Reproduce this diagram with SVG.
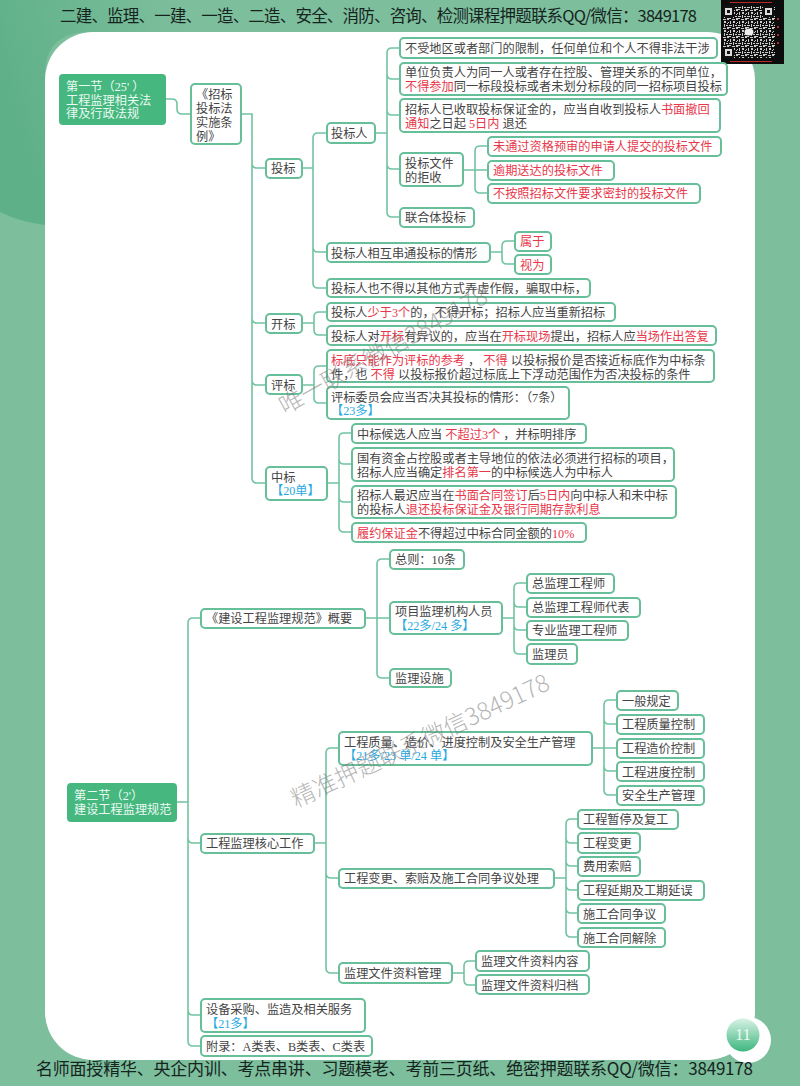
<svg xmlns="http://www.w3.org/2000/svg" width="800" height="1086" viewBox="0 0 800 1086">
<style>
text{font-family:"Liberation Serif","Noto Sans CJK SC",sans-serif;font-size:12.2px;fill:#444}
.n{fill:#fff;stroke:#66bf99;stroke-width:2}
.c{fill:none;stroke:#70c4a1;stroke-width:1.6}
.r{fill:#e8374a}
.b{fill:#27a9e1}
.w{fill:#eafaf2}
.h{font-family:"Noto Sans CJK SC","Liberation Sans",sans-serif;font-size:16.5px;fill:#16241f}
.m{font-family:"Noto Sans CJK SC",sans-serif;font-size:24px;fill:#777;fill-opacity:.55;font-weight:300}
</style>
<defs>
<linearGradient id="pg" x1="0" y1="0" x2="0" y2="1"><stop offset="0" stop-color="#d8f3e4"/><stop offset="1" stop-color="#3db67f"/></linearGradient>
<linearGradient id="tl" gradientUnits="userSpaceOnUse" x1="0" y1="100" x2="190" y2="40"><stop offset="0" stop-color="#5eb088"/><stop offset=".3" stop-color="#66b48e"/><stop offset="1" stop-color="#7dbe9c"/></linearGradient>
<pattern id="qr" width="9" height="9" patternUnits="userSpaceOnUse"><rect width="9" height="9" fill="#111"/><path d="M0 0h2v1H0zM3 1h3v1H3zM7 0h2v2H7zM1 3h1v3H1zM4 3h2v2H4zM8 4h1v1H8zM0 7h3v1H0zM4 6h1v3H4zM6 7h2v1H6zM7 5h1v1H7z" fill="#ccc"/></pattern>
</defs>
<rect id="bg" width="800" height="1086" fill="#7dbe9c"/>
<path d="M0 0H200V32H90Q45 32 45 75V225Q20 222 0 212Z" fill="url(#tl)"/>
<rect id="panel" x="45" y="32" width="710" height="1028" rx="48" fill="#fff"/>
<text class="h" x="60" y="22" textLength="637">二建、监理、一建、一造、二造、安全、消防、咨询、检测课程押题联系QQ/微信：3849178</text>
<g id="qrcode"><rect x="721" y="0" width="63" height="64" fill="#0c0c0c"/><rect x="723" y="6" width="52" height="52" fill="url(#qr)"/>
<path d="M723 6h11v11h-11zM763 6h11v11h-11zM723 47h11v11h-11z" fill="#111"/><path d="M725 8h7v7h-7zM765 8h7v7h-7zM725 49h7v7h-7z" fill="#ddd"/><path d="M727 10h3v3h-3zM767 10h3v3h-3zM727 51h3v3h-3z" fill="#111"/><ellipse cx="749" cy="32" rx="4.5" ry="3.5" fill="#eee"/><path d="M730 2h42v1H730zM730 61h42v1H730zM777 18h2v2h-2zM777 26h2v2h-2zM777 34h2v2h-2zM777 42h2v2h-2z" fill="#b32a2a"/></g>
<g id="connectors">
<path class="c" d="M166 99H172Q177 99 177 104V109Q177 114 182 114H191"/>
<path class="c" d="M241 114H252V478Q252 483 257 483H266M252 163Q252 168 257 168H266M252 318Q252 323 257 323H266M252 380Q252 385 257 385H266"/>
<path class="c" d="M302 168H313M327 133H318Q313 133 313 138V283Q313 288 318 288H327M313 247Q313 252 318 252H327"/>
<path class="c" d="M375 133H387M400 48H392Q387 48 387 53V212Q387 217 392 217H400M387 74Q387 79 392 79H400M387 110Q387 115 392 115H400M387 164Q387 169 392 169H400"/>
<path class="c" d="M463 170H488M488 146H480Q475 146 475 151V188Q475 193 480 193H488"/>
<path class="c" d="M490 252H502M515 241H507Q502 241 502 246V259Q502 264 507 264H515"/>
<path class="c" d="M302 323H314M327 312H319Q314 312 314 317V330Q314 335 319 335H327"/>
<path class="c" d="M302 385H314M327 366H319Q314 366 314 371V398Q314 403 319 403H327"/>
<path class="c" d="M327 483H339M352 433H344Q339 433 339 438V527Q339 532 344 532H352M339 459Q339 464 344 464H352M339 497Q339 502 344 502H352"/>
<path class="c" d="M177 802H188M201 618H193Q188 618 188 623V1041Q188 1046 193 1046H201M188 838Q188 843 193 843H201M188 1010Q188 1015 193 1015H201"/>
<path class="c" d="M365 618H390M390 559H382Q377 559 377 564V673Q377 678 382 678H390"/>
<path class="c" d="M502 618H514M527 583H519Q514 583 514 588V649Q514 654 519 654H527M514 602Q514 607 519 607H527M514 625Q514 630 519 630H527"/>
<path class="c" d="M314 843H326M339 748H331Q326 748 326 753V968Q326 973 331 973H339M326 873Q326 878 331 878H339"/>
<path class="c" d="M592 748H617M617 700H609Q604 700 604 705V790Q604 795 609 795H617M604 719Q604 724 609 724H617M604 766Q604 771 609 771H617"/>
<path class="c" d="M554 878H566M578 819H571Q566 819 566 824V932Q566 937 571 937H578M566 838Q566 843 571 843H578M566 861Q566 866 571 866H578M566 885Q566 890 571 890H578M566 908Q566 913 571 913H578"/>
<path class="c" d="M452 973H464M476 961H469Q464 961 464 966V980Q464 985 469 985H476"/>
</g>
<g id="s1"><rect x="59" y="74" width="107" height="51" rx="4" fill="#46b77f"/><text class="w" x="66" y="91">第一节（25' ）</text><text class="w" x="66" y="105">工程监理相关法</text><text class="w" x="66" y="118">律及行政法规</text></g>
<g id="n1"><rect class="n" x="191" y="84" width="50" height="60" rx="4"/><text x="196" y="99">《招标</text><text x="196" y="113">投标法</text><text x="196" y="127">实施条</text><text x="196" y="141">例》</text></g>
<g id="n2"><rect class="n" x="266" y="159" width="36" height="19" rx="4"/><text x="271" y="173">投标</text></g>
<g id="n3"><rect class="n" x="327" y="123" width="48" height="20" rx="4"/><text x="331" y="138">投标人</text></g>
<g id="n4"><rect class="n" x="400" y="38" width="317" height="20" rx="4"/><text x="405" y="53">不受地区或者部门的限制，任何单位和个人不得非法干涉</text></g>
<g id="n5"><rect class="n" x="400" y="63" width="327" height="32" rx="4"/><text x="405" y="77">单位负责人为同一人或者存在控股、管理关系的不同单位，</text><text x="405" y="91"><tspan class="r">不得参加</tspan>同一标段投标或者未划分标段的同一招标项目投标</text></g>
<g id="n6"><rect class="n" x="400" y="99" width="320" height="33" rx="4"/><text x="405" y="114">招标人已收取投标保证金的，应当自收到投标人<tspan class="r">书面撤回</tspan></text><text x="405" y="128"><tspan class="r">通知</tspan>之日起 <tspan class="r">5日内</tspan> 退还</text></g>
<g id="n7"><rect class="n" x="400" y="153" width="63" height="33" rx="4"/><text x="405" y="168">投标文件</text><text x="405" y="182">的拒收</text></g>
<g id="n8"><rect class="n" x="488" y="137" width="233" height="19" rx="4"/><text class="r" x="493" y="151">未通过资格预审的申请人提交的投标文件</text></g>
<g id="n9"><rect class="n" x="488" y="161" width="126" height="19" rx="4"/><text class="r" x="493" y="175">逾期送达的投标文件</text></g>
<g id="n10"><rect class="n" x="488" y="184" width="212" height="19" rx="4"/><text class="r" x="493" y="198">不按照招标文件要求密封的投标文件</text></g>
<g id="n11"><rect class="n" x="400" y="208" width="74" height="19" rx="4"/><text x="405" y="222">联合体投标</text></g>
<g id="n12"><rect class="n" x="327" y="243" width="163" height="19" rx="4"/><text x="331" y="258">投标人相互串通投标的情形</text></g>
<g id="n13"><rect class="n" x="515" y="232" width="36" height="19" rx="4"/><text class="r" x="520" y="246">属于</text></g>
<g id="n14"><rect class="n" x="515" y="255" width="36" height="19" rx="4"/><text class="r" x="520" y="270">视为</text></g>
<g id="n15"><rect class="n" x="327" y="279" width="263" height="18" rx="4"/><text x="331" y="293">投标人也不得以其他方式弄虚作假，骗取中标，</text></g>
<g id="n16"><rect class="n" x="266" y="314" width="36" height="19" rx="4"/><text x="271" y="329">开标</text></g>
<g id="n17"><rect class="n" x="327" y="303" width="288" height="18" rx="4"/><text x="331" y="317">投标人<tspan class="r">少于3个</tspan>的，不得开标；招标人应当重新招标</text></g>
<g id="n18"><rect class="n" x="327" y="326" width="389" height="19" rx="4"/><text x="331" y="341">投标人对<tspan class="r">开标</tspan>有异议的，应当在<tspan class="r">开标现场</tspan>提出，招标人应<tspan class="r">当场作出答复</tspan></text></g>
<g id="n19"><rect class="n" x="266" y="375" width="36" height="19" rx="4"/><text x="271" y="390">评标</text></g>
<g id="n20"><rect class="n" x="327" y="350" width="387" height="32" rx="4"/><text x="331" y="365"><tspan class="r">标底只能作为评标的参考</tspan> ， <tspan class="r">不得</tspan> 以投标报价是否接近标底作为中标条</text><text x="331" y="379">件，也 <tspan class="r">不得</tspan> 以投标报价超过标底上下浮动范围作为否决投标的条件</text></g>
<g id="n21"><rect class="n" x="327" y="387" width="242" height="32" rx="4"/><text x="331" y="402">评标委员会应当否决其投标的情形：（7条）</text><text class="b" x="331" y="415">【23多】</text></g>
<g id="n22"><rect class="n" x="266" y="467" width="61" height="33" rx="4"/><text x="271" y="482">中标</text><text class="b" x="271" y="495">【20单】</text></g>
<g id="n23"><rect class="n" x="352" y="424" width="234" height="19" rx="4"/><text x="357" y="439">中标候选人应当 <tspan class="r">不超过3个</tspan> ，并标明排序</text></g>
<g id="n24"><rect class="n" x="352" y="448" width="322" height="33" rx="4"/><text x="357" y="463">国有资金占控股或者主导地位的依法必须进行招标的项目，</text><text x="357" y="477">招标人应当确定<tspan class="r">排名第一</tspan>的中标候选人为中标人</text></g>
<g id="n25"><rect class="n" x="352" y="486" width="324" height="32" rx="4"/><text x="357" y="500">招标人最迟应当在<tspan class="r">书面合同签订</tspan>后<tspan class="r">5日内</tspan>向中标人和未中标</text><text x="357" y="514">的投标人<tspan class="r">退还投标保证金及银行同期存款利息</tspan></text></g>
<g id="n26"><rect class="n" x="352" y="523" width="234" height="19" rx="4"/><text x="357" y="538"><tspan class="r">履约保证金</tspan>不得超过中标合同金额的<tspan class="r">10%</tspan></text></g>
<g id="s2"><rect x="67" y="783" width="110" height="39" rx="4" fill="#46b77f"/><text class="w" x="74" y="800">第二节（2'）</text><text class="w" x="74" y="814">建设工程监理规范</text></g>
<g id="m1"><rect class="n" x="201" y="609" width="164" height="19" rx="4"/><text x="206" y="623">《建设工程监理规范》概要</text></g>
<g id="m2"><rect class="n" x="390" y="550" width="74" height="19" rx="4"/><text x="395" y="564">总则：10条</text></g>
<g id="m3"><rect class="n" x="390" y="602" width="112" height="32" rx="4"/><text x="395" y="616">项目监理机构人员</text><text class="b" x="395" y="630">【22多/24 多】</text></g>
<g id="m4"><rect class="n" x="390" y="669" width="61" height="18" rx="4"/><text x="395" y="683">监理设施</text></g>
<g id="m5"><rect class="n" x="527" y="574" width="87" height="19" rx="4"/><text x="532" y="588">总监理工程师</text></g>
<g id="m6"><rect class="n" x="527" y="598" width="113" height="19" rx="4"/><text x="532" y="612">总监理工程师代表</text></g>
<g id="m7"><rect class="n" x="527" y="621" width="101" height="19" rx="4"/><text x="532" y="635">专业监理工程师</text></g>
<g id="m8"><rect class="n" x="527" y="644" width="50" height="20" rx="4"/><text x="532" y="659">监理员</text></g>
<g id="m9"><rect class="n" x="201" y="834" width="113" height="19" rx="4"/><text x="206" y="848">工程监理核心工作</text></g>
<g id="m10"><rect class="n" x="339" y="732" width="253" height="33" rx="4"/><text x="344" y="747">工程质量、造价、进度控制及安全生产管理</text><text class="b" x="344" y="760">【21多/23 单/24 单】</text></g>
<g id="m11"><rect class="n" x="617" y="691" width="61" height="19" rx="4"/><text x="622" y="706">一般规定</text></g>
<g id="m12"><rect class="n" x="617" y="715" width="87" height="19" rx="4"/><text x="622" y="729">工程质量控制</text></g>
<g id="m13"><rect class="n" x="617" y="739" width="87" height="19" rx="4"/><text x="622" y="753">工程造价控制</text></g>
<g id="m14"><rect class="n" x="617" y="762" width="87" height="19" rx="4"/><text x="622" y="777">工程进度控制</text></g>
<g id="m15"><rect class="n" x="617" y="786" width="87" height="19" rx="4"/><text x="622" y="800">安全生产管理</text></g>
<g id="m16"><rect class="n" x="339" y="869" width="215" height="19" rx="4"/><text x="344" y="883">工程变更、索赔及施工合同争议处理</text></g>
<g id="m17"><rect class="n" x="578" y="810" width="100" height="19" rx="4"/><text x="583" y="824">工程暂停及复工</text></g>
<g id="m18"><rect class="n" x="578" y="833" width="62" height="20" rx="4"/><text x="583" y="848">工程变更</text></g>
<g id="m19"><rect class="n" x="578" y="857" width="62" height="19" rx="4"/><text x="583" y="871">费用索赔</text></g>
<g id="m20"><rect class="n" x="578" y="881" width="126" height="19" rx="4"/><text x="583" y="895">工程延期及工期延误</text></g>
<g id="m21"><rect class="n" x="578" y="904" width="87" height="19" rx="4"/><text x="583" y="919">施工合同争议</text></g>
<g id="m22"><rect class="n" x="578" y="928" width="87" height="19" rx="4"/><text x="583" y="943">施工合同解除</text></g>
<g id="m23"><rect class="n" x="339" y="963" width="113" height="20" rx="4"/><text x="344" y="978">监理文件资料管理</text></g>
<g id="m24"><rect class="n" x="476" y="951" width="113" height="20" rx="4"/><text x="481" y="966">监理文件资料内容</text></g>
<g id="m25"><rect class="n" x="476" y="975" width="113" height="19" rx="4"/><text x="481" y="990">监理文件资料归档</text></g>
<g id="m26"><rect class="n" x="201" y="999" width="164" height="33" rx="4"/><text x="206" y="1014">设备采购、监造及相关服务</text><text class="b" x="206" y="1028">【21多】</text></g>
<g id="m27"><rect class="n" x="201" y="1036" width="171" height="20" rx="4"/><text x="206" y="1051">附录：A类表、B类表、C类表</text></g>
<g id="page"><circle cx="748" cy="1040" r="23" fill="#fff"/><circle cx="743" cy="1035" r="16.5" fill="url(#pg)"/><text x="743" y="1040" text-anchor="middle" style="font-size:16px;fill:#f1fbf6">11</text></g>
<text class="h" x="36" y="1075" textLength="717" style="font-size:17px">名师面授精华、央企内训、考点串讲、习题模老、考前三页纸、绝密押题联系QQ/微信：3849178</text>
<text class="m" transform="translate(285 415) rotate(-29)">唯一联系微信3849178</text>
<text class="m" transform="translate(296 808) rotate(-25)">精准押题联系微信3849178</text>
</svg>
